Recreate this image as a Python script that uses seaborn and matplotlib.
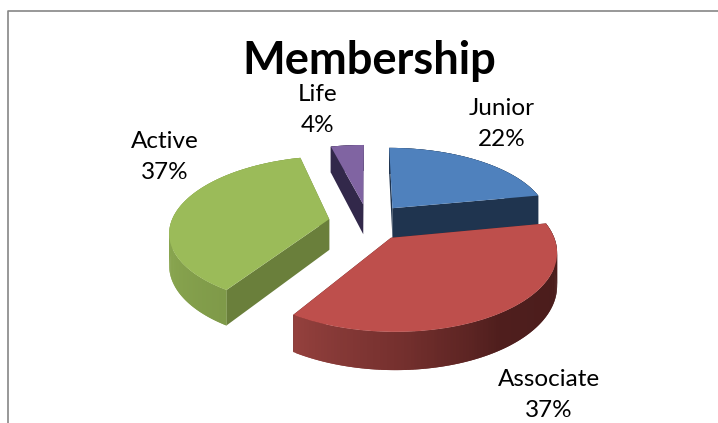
#!/usr/bin/env python3
# -*- coding: utf-8 -*-
"""Membership pie, drawn with a fake 3D look (perspective + extruded walls)."""

import numpy as np
import matplotlib
matplotlib.use("Agg")
import matplotlib.pyplot as plt
from matplotlib.lines import Line2D
from matplotlib.transforms import Transform
import seaborn as sns

# data
categories = ["Junior", "Associate", "Active", "Life"]
percents = [22, 37, 37, 4]
title = "Membership"

# styling, same order as categories
top_colors = ["#4F81BD", "#BE4F4C", "#9BBB59", "#8064A2"]
cut_colors = ["#1F344F", "#4F1E1D", "#6A7F3B", "#32284A"]
wall_ramps = [
    ["#1F344F", "#1F344F"],
    ["#93403D", "#75302E", "#4F1E1D", "#4B1D1C", "#4B1D1C"],
    ["#7F9A49", "#8FAD53", "#85A04C"],
    ["#32284A", "#32284A"],
]
draw_order = [3, 0, 2, 1]
label_pos = [(502, 124), (549, 395), (165, 157), (318, 110)]

# projection settings, in pixels
CX, CY = 368, 222
SX, SY = 158, 73.8
PERSP = 0.157
DEPTH = 31
EXPLODE = 0.25


def project(x, y, z=0.0):
    s = 1.0 / (1.0 + PERSP * np.asarray(y))
    return CX + SX * np.asarray(x) * s, CY - SY * np.asarray(y) * s + DEPTH * z * s


class Perspective(Transform):
    input_dims = output_dims = 2

    def transform_non_affine(self, values):
        px, py = project(values[:, 0], values[:, 1])
        return np.column_stack([px, py])


sns.set_theme(style="white")
plt.rcParams["font.family"] = ["Lato", "DejaVu Sans"]

fig = plt.figure(figsize=(7.18, 4.23), dpi=100)
ax = fig.add_axes([0, 0, 1, 1])

wedges, _ = ax.pie(
    percents,
    colors=top_colors,
    explode=[EXPLODE] * len(percents),
    startangle=90,
    counterclock=False,
    wedgeprops={"linewidth": 0},
)
ax.set_aspect("auto")
ax.set_xlim(0, 718)
ax.set_ylim(423, 0)
ax.axis("off")

persp = Perspective()
for rank, i in enumerate(draw_order):
    w = wedges[i]
    zbase = 2 + rank * 2
    cx, cy = w.center
    t1, t2 = np.radians(w.theta1), np.radians(w.theta2)

    # flat cut faces
    for t in (t1, t2):
        xs = np.array([cx, cx + w.r * np.cos(t)])
        ys = np.array([cy, cy + w.r * np.sin(t)])
        tx, ty = project(xs, ys)
        bx, by = project(xs, ys, 1.0)
        ax.fill(np.r_[tx, bx[::-1]], np.r_[ty, by[::-1]],
                color=cut_colors[i], lw=0, zorder=zbase)

    # rim, split in thin strips so the shade can change along it.
    # each strip runs under the next one, otherwise seams show
    n = max(int(np.degrees(t2 - t1)), 2)
    angles = np.linspace(t1, t2, n + 1)
    xs, ys = cx + w.r * np.cos(angles), cy + w.r * np.sin(angles)
    tx, ty = project(xs, ys)
    bx, by = project(xs, ys, 1.0)
    shades = sns.blend_palette(wall_ramps[i], n_colors=n)
    if i == 2:
        shades = shades[::-1]
    for k in range(n):
        j = min(k + 2, n)
        ax.fill([tx[k], tx[j], bx[j], bx[k]],
                [ty[k], ty[j], by[j], by[k]],
                color=shades[k], lw=0, zorder=zbase)

    w.set_transform(persp + ax.transData)
    w.set_zorder(zbase + 1)

for name, pct, (x, y) in zip(categories, percents, label_pos):
    ax.text(x, y, f"{name}\n{pct}%", ha="center", va="center",
            fontsize=17.5, linespacing=1.6, color="black", zorder=20)

ax.text(369, 61, title, ha="center", va="center", fontsize=32.6,
        fontweight="bold", color="black", zorder=20)

# chart area border, cropped at the right and at the bottom
fig.add_artist(Line2D([7.5 / 718, 7.5 / 718, 1], [0, 1 - 11 / 423, 1 - 11 / 423],
                      color="#868686", lw=1.2))

fig.savefig("out.png", dpi=100)
